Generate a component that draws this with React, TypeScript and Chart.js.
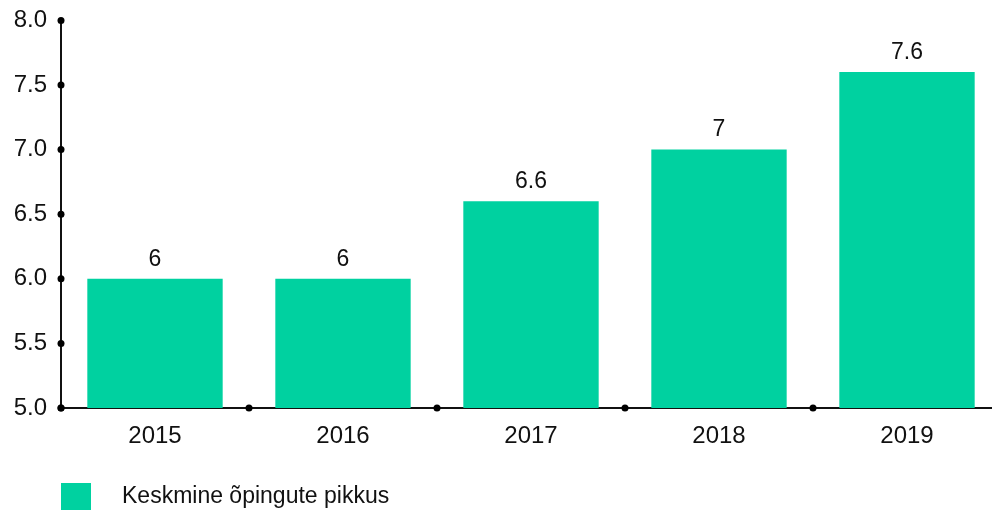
import React, { useEffect, useRef } from "react";
import { Chart, registerables } from "chart.js";

Chart.register(...registerables);

const categories = ["2015", "2016", "2017", "2018", "2019"];
const values = [6, 6, 6.6, 7, 7.6];
const seriesLabel = "Keskmine õpingute pikkus";
const yMin = 5;
const yMax = 8;
const yStep = 0.5;

const FONT = "'Liberation Sans', Arial, sans-serif";
const BAR_COLOR = "#00D1A0";
const OFFSET = 8;

const decorPlugin = {
  id: "decor",
  afterDraw(chart: any) {
    const ctx = chart.ctx;
    const area = chart.chartArea;
    const x = chart.scales.x;
    const y = chart.scales.y;
    ctx.save();
    ctx.fillStyle = "#000";
    y.ticks.forEach((t: any) => {
      const py = y.getPixelForValue(t.value);
      ctx.beginPath();
      ctx.arc(area.left, py, 3.5, 0, Math.PI * 2);
      ctx.fill();
    });
    for (let i = 0; i <= categories.length; i++) {
      const px = x.getPixelForValue(i - 0.5);
      ctx.beginPath();
      ctx.arc(px, area.bottom, 3.5, 0, Math.PI * 2);
      ctx.fill();
    }
    const meta = chart.getDatasetMeta(0);
    ctx.font = `23px ${FONT}`;
    ctx.fillStyle = "#111";
    ctx.textAlign = "center";
    ctx.textBaseline = "bottom";
    meta.data.forEach((bar: any, i: number) => {
      ctx.fillText(String(values[i]), bar.x, bar.y - 8);
    });
    ctx.fillStyle = BAR_COLOR;
    ctx.fillRect(area.left, 483 + OFFSET, 30, 30);
    ctx.fillStyle = "#111";
    ctx.textAlign = "left";
    ctx.textBaseline = "middle";
    ctx.font = `23px ${FONT}`;
    ctx.fillText(seriesLabel, 122, 497 + OFFSET);
    ctx.restore();
  },
};

export default function App() {
  const ref = useRef<HTMLCanvasElement>(null);
  useEffect(() => {
    if (!ref.current) return;
    const chart = new Chart(ref.current, {
      type: "bar",
      data: {
        labels: categories,
        datasets: [
          {
            label: seriesLabel,
            data: values,
            backgroundColor: BAR_COLOR,
            borderWidth: 0,
            categoryPercentage: 0.8,
            barPercentage: 0.9,
          },
        ],
      },
      options: {
        animation: false,
        responsive: false,
        maintainAspectRatio: false,
        layout: { padding: { top: 0, right: 9, left: 0, bottom: 0 } },
        plugins: { legend: { display: false }, tooltip: { enabled: false } },
        scales: {
          x: {
            grid: { display: false, drawTicks: false },
            border: { display: true, color: "#111", width: 2 },
            ticks: {
              color: "#111",
              font: { family: FONT, size: 24 },
              padding: 14,
            },
            afterFit(scale: any) {
              scale.height = 102;
            },
          },
          y: {
            min: yMin,
            max: yMax,
            grid: { display: false, drawTicks: false },
            border: { display: true, color: "#111", width: 2 },
            ticks: {
              stepSize: yStep,
              color: "#111",
              font: { family: FONT, size: 24 },
              padding: 14,
              callback: (v: any) => Number(v).toFixed(1),
            },
            afterFit(scale: any) {
              scale.width = 61;
            },
          },
        },
      },
      plugins: [decorPlugin],
    });
    return () => chart.destroy();
  }, []);
  return (
    <canvas
      ref={ref}
      width={1010}
      height={510 + OFFSET}
      style={{ position: "absolute", left: 0, top: -OFFSET, width: 1010, height: 510 + OFFSET }}
    />
  );
}
